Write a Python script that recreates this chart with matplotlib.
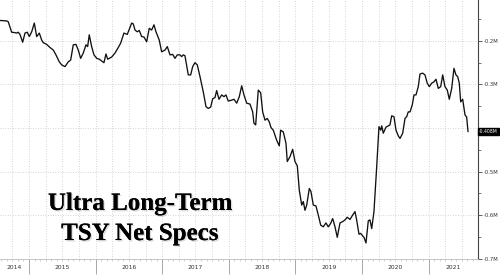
import numpy as np
import matplotlib
matplotlib.use("Agg")
import matplotlib.pyplot as plt
import matplotlib.patheffects as pe
from matplotlib.transforms import blended_transform_factory

# dates as decimal years, values in millions of contracts
dates = [
    2014.565, 2014.665, 2014.689, 2014.740, 2014.790, 2014.815, 2014.839, 2014.865, 2014.905, 2014.940,
    2014.974, 2015.005, 2015.041, 2015.080, 2015.116, 2015.155, 2015.191, 2015.215, 2015.266, 2015.315,
    2015.365, 2015.405, 2015.455, 2015.491, 2015.541, 2015.590, 2015.626, 2015.665, 2015.706, 2015.740,
    2015.776, 2015.815, 2015.856, 2015.881, 2015.905, 2015.941, 2015.976, 2016.017, 2016.056, 2016.092,
    2016.126, 2016.156, 2016.182, 2016.242, 2016.291, 2016.341, 2016.377, 2016.426, 2016.476, 2016.542,
    2016.566, 2016.592, 2016.626, 2016.656, 2016.692, 2016.727, 2016.767, 2016.806, 2016.842, 2016.877,
    2016.907, 2016.956, 2016.992, 2017.042, 2017.077, 2017.117, 2017.158, 2017.192, 2017.227, 2017.267,
    2017.293, 2017.317, 2017.342, 2017.392, 2017.428, 2017.458, 2017.492, 2017.527, 2017.568, 2017.617,
    2017.658, 2017.692, 2017.728, 2017.758, 2017.793, 2017.818, 2017.853, 2017.893, 2017.928, 2017.958,
    2017.992, 2018.044, 2018.078, 2018.119, 2018.158, 2018.194, 2018.228, 2018.269, 2018.318, 2018.359,
    2018.378, 2018.404, 2018.443, 2018.479, 2018.509, 2018.544, 2018.578, 2018.608, 2018.634, 2018.668,
    2018.719, 2018.758, 2018.779, 2018.818, 2018.859, 2018.878, 2018.919, 2018.959, 2018.994, 2019.029,
    2019.059, 2019.095, 2019.119, 2019.144, 2019.170, 2019.209, 2019.234, 2019.269, 2019.309, 2019.344,
    2019.380, 2019.419, 2019.459, 2019.494, 2019.530, 2019.560, 2019.595, 2019.629, 2019.670, 2019.710,
    2019.745, 2019.779, 2019.820, 2019.860, 2019.895, 2019.920, 2019.955, 2019.980, 2020.011, 2020.030,
    2020.060, 2020.095, 2020.120, 2020.146, 2020.180, 2020.221, 2020.255, 2020.281, 2020.296, 2020.320,
    2020.360, 2020.395, 2020.420, 2020.446, 2020.480, 2020.511, 2020.545, 2020.571, 2020.611, 2020.646,
    2020.671, 2020.695, 2020.721, 2020.755, 2020.781, 2020.811, 2020.845, 2020.871, 2020.911, 2020.946,
    2020.980, 2021.011, 2021.047, 2021.081, 2021.111, 2021.146, 2021.182, 2021.212, 2021.246, 2021.281,
    2021.311, 2021.347, 2021.381, 2021.411, 2021.437, 2021.461, 2021.482, 2021.512, 2021.547, 2021.572,
    2021.592,
]
net_specs = [
    -0.153, -0.154, -0.156, -0.180, -0.181, -0.182, -0.180, -0.185, -0.203, -0.182,
    -0.180, -0.190, -0.179, -0.159, -0.190, -0.182, -0.198, -0.204, -0.208, -0.215,
    -0.221, -0.232, -0.248, -0.255, -0.259, -0.248, -0.244, -0.209, -0.208, -0.221,
    -0.240, -0.228, -0.209, -0.213, -0.186, -0.213, -0.232, -0.240, -0.242, -0.246,
    -0.250, -0.230, -0.242, -0.237, -0.228, -0.215, -0.205, -0.182, -0.185, -0.159,
    -0.161, -0.175, -0.179, -0.176, -0.190, -0.191, -0.202, -0.171, -0.175, -0.163,
    -0.179, -0.198, -0.225, -0.221, -0.213, -0.232, -0.231, -0.240, -0.232, -0.232,
    -0.236, -0.232, -0.234, -0.278, -0.278, -0.259, -0.250, -0.255, -0.282, -0.317,
    -0.351, -0.355, -0.352, -0.333, -0.330, -0.314, -0.334, -0.324, -0.328, -0.324,
    -0.338, -0.336, -0.334, -0.343, -0.328, -0.303, -0.324, -0.343, -0.345, -0.363,
    -0.389, -0.393, -0.313, -0.319, -0.363, -0.382, -0.378, -0.386, -0.399, -0.405,
    -0.428, -0.441, -0.405, -0.409, -0.435, -0.477, -0.466, -0.449, -0.477, -0.487,
    -0.543, -0.577, -0.569, -0.589, -0.577, -0.539, -0.546, -0.577, -0.579, -0.600,
    -0.623, -0.627, -0.618, -0.627, -0.619, -0.608, -0.627, -0.651, -0.618, -0.615,
    -0.611, -0.605, -0.610, -0.600, -0.592, -0.611, -0.644, -0.642, -0.648, -0.651,
    -0.664, -0.613, -0.611, -0.631, -0.592, -0.489, -0.397, -0.405, -0.395, -0.412,
    -0.398, -0.395, -0.393, -0.372, -0.374, -0.405, -0.418, -0.424, -0.412, -0.378,
    -0.374, -0.363, -0.363, -0.347, -0.324, -0.324, -0.305, -0.276, -0.274, -0.278,
    -0.297, -0.305, -0.297, -0.294, -0.288, -0.309, -0.305, -0.278, -0.305, -0.313,
    -0.334, -0.309, -0.263, -0.278, -0.282, -0.297, -0.340, -0.334, -0.370, -0.375,
    -0.408,
]
years = [2014, 2015, 2016, 2017, 2018, 2019, 2020, 2021]
y_ticks = [-0.7, -0.6, -0.5, -0.4, -0.3, -0.2]
last_label = "-0.408M"

x0, x1 = 2014.565, 2021.742

fig = plt.figure(figsize=(5, 2.77), dpi=100)
ax = fig.add_axes([0.0, 0.0632, 0.956, 0.9368])
ax.set_xlim(x0, x1)
ax.set_ylim(-0.702, -0.106)

# dotted quarterly / 0.1M grid
for q in np.arange(2014.75, x1, 0.25):
    ax.axvline(q, color="#c8c8c8", lw=0.6, ls=(0, (1, 2)), zorder=0)
for yt in y_ticks:
    ax.axhline(yt, color="#c8c8c8", lw=0.6, ls=(0, (1, 2)), zorder=0)

ax.plot(dates, net_specs, color="#111111", lw=0.95, zorder=3)

for s in ["top", "left"]:
    ax.spines[s].set_visible(False)
ax.spines["right"].set_color("#444444")
ax.spines["right"].set_linewidth(0.8)
ax.spines["bottom"].set_color("#bbbbbb")
ax.spines["bottom"].set_linewidth(0.6)

# y axis on the right; the -0.4M label sits under the last-value box
ax.yaxis.tick_right()
ax.set_yticks(y_ticks)
ax.set_yticklabels(["" if abs(v + 0.4) < 1e-9 else f"{v:.1f}M" for v in y_ticks])
ax.set_yticks(np.arange(-0.65, -0.1, 0.1), minor=True)
ax.tick_params(axis="y", which="major", length=3, width=0.6, color="#444444",
               labelsize=3.8, labelcolor="#333333", pad=1)
ax.tick_params(axis="y", which="minor", length=2, width=0.5, color="#444444")

# x axis: long ticks at year boundaries, monthly small ticks, labels mid-year
ax.set_xticks(years[1:])
ax.set_xticklabels([])
ax.set_xticks(np.arange(2014 + 7 / 12, x1, 1 / 12), minor=True)
ax.tick_params(axis="x", which="major", length=11, width=0.6, color="#999999")
ax.tick_params(axis="x", which="minor", length=1.5, width=0.4, color="#aaaaaa")

trans = blended_transform_factory(ax.transData, ax.transAxes)
for yr in years:
    lo, hi = max(yr, x0), min(yr + 1, x1)
    ax.text((lo + hi) / 2, -0.022, str(yr), transform=trans, ha="center", va="top",
            fontsize=4.3, color="#333333")

# last value marker
ax.annotate(last_label, xy=(1.0, net_specs[-1]), xycoords=("axes fraction", "data"),
            xytext=(0.8, 0), textcoords="offset points", ha="left", va="center",
            fontsize=3.3, color="white", annotation_clip=False,
            bbox=dict(boxstyle="square,pad=0.2", fc="black", ec="black"))

# title block
shadow = [pe.withSimplePatchShadow(offset=(1, -1), shadow_rgbFace="#999999", alpha=0.35), pe.Normal()]
ax.text(0.293, 0.191, "Ultra Long-Term", transform=ax.transAxes, ha="center", va="baseline",
        fontsize=18, fontweight="bold", family="Liberation Serif", path_effects=shadow)
ax.text(0.293, 0.075, "TSY Net Specs", transform=ax.transAxes, ha="center", va="baseline",
        fontsize=18, fontweight="bold", family="Liberation Serif", path_effects=shadow)

fig.savefig("out.png", dpi=100)
